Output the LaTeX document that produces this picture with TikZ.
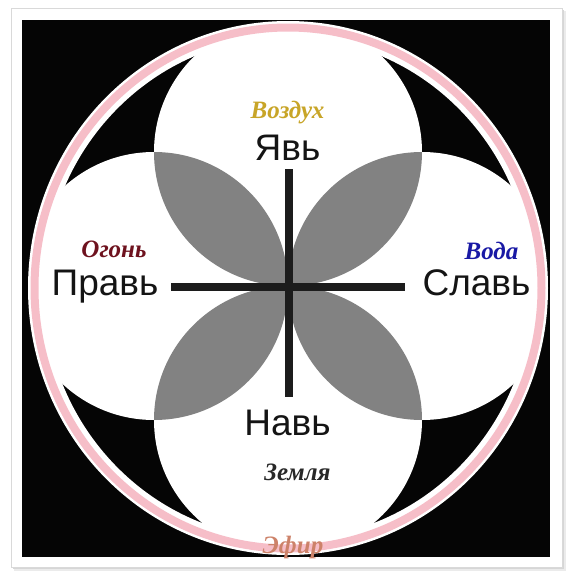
\documentclass[tikz,border=0pt]{standalone}
\usepackage{fontspec}
\newfontfamily\lsans{Liberation Sans}
\newfontfamily\lserif{Liberation Serif}
\definecolor{bgblack}{RGB}{5,5,5}
\definecolor{ringpink}{RGB}{246,190,200}
\definecolor{petalgray}{RGB}{130,130,130}
\definecolor{barblack}{RGB}{28,28,28}
\definecolor{gold}{RGB}{200,165,40}
\definecolor{fire}{RGB}{110,18,30}
\definecolor{water}{RGB}{25,25,165}
\definecolor{earth}{RGB}{40,40,40}
\definecolor{ether}{RGB}{205,130,105}
\begin{document}
\begin{tikzpicture}[x=1pt,y=-1pt,
  main/.style={font=\lsans\fontsize{37}{37}\selectfont, inner sep=0pt, anchor=base, text=black!92},
  elem/.style={font=\lserif\bfseries\itshape\fontsize{25}{26}\selectfont, inner sep=0pt, anchor=base},
  bar/.style={line width=8pt, draw=barblack, line cap=butt},
  white circle/.style={fill=white},
  petal/.style={fill=petalgray}]
\useasboundingbox (0,0) rectangle (574,582);
\fill[white] (0,0) rectangle (574,582);
% frame with soft shadow
\fill[black!8] (14,11) rectangle (566,571);
\fill[black!16] (13,10) rectangle (564,569);
\filldraw[fill=white, draw=black!15, line width=0.8pt] (11,8) rectangle (562,567);
% black square
\fill[bgblack] (22,20) rectangle (550,557);
\coordinate (C) at (288,288);
% four circles
\coordinate (T) at (288,152);
\coordinate (B) at (288,420);
\coordinate (L) at (154,286);
\coordinate (R) at (422,286);
\begin{scope}
  \clip (C) ellipse [x radius=246pt, y radius=253pt];
  \foreach \p in {T,B,L,R} \fill[white circle] (\p) circle [radius=134pt];
  \begin{scope}\clip (T) circle [radius=134pt]; \fill[petal] (L) circle [radius=134pt];\end{scope}
  \begin{scope}\clip (T) circle [radius=134pt]; \fill[petal] (R) circle [radius=134pt];\end{scope}
  \begin{scope}\clip (B) circle [radius=134pt]; \fill[petal] (L) circle [radius=134pt];\end{scope}
  \begin{scope}\clip (B) circle [radius=134pt]; \fill[petal] (R) circle [radius=134pt];\end{scope}
\end{scope}
% ring
\fill[white, even odd rule] (C) ellipse [x radius=260pt, y radius=267pt]
                            (C) ellipse [x radius=244pt, y radius=251pt];
\fill[ringpink, even odd rule] (C) ellipse [x radius=257.5pt, y radius=264.5pt]
                               (C) ellipse [x radius=249.5pt, y radius=256.5pt];
% cross
\coordinate (vt) at (288.5,169);
\coordinate (vb) at (288.5,397);
\coordinate (hl) at (171,286.5);
\coordinate (hr) at (405,286.5);
\draw[bar] (vt) -- (vb);
\draw[bar] (hl) -- (hr);
% labels
\node[main] (yav) at (287.5,160.5) {Явь};
\node[main] (prav) at (105,295) {Правь};
\node[main] (slav) at (476.5,295) {Славь};
\node[main] (nav) at (287.5,435) {Навь};
\node[elem, text=gold] (vozduh) at (287.5,118.5) {Воздух};
\node[elem, text=fire] (ogon) at (114,257) {Огонь};
\node[elem, text=water] (voda) at (491.5,259) {Вода};
\node[elem, text=earth] (zemlya) at (297.5,480) {Земля};
\node[elem, text=ether] (efir) at (293,553) {Эфир};
\end{tikzpicture}
\end{document}
